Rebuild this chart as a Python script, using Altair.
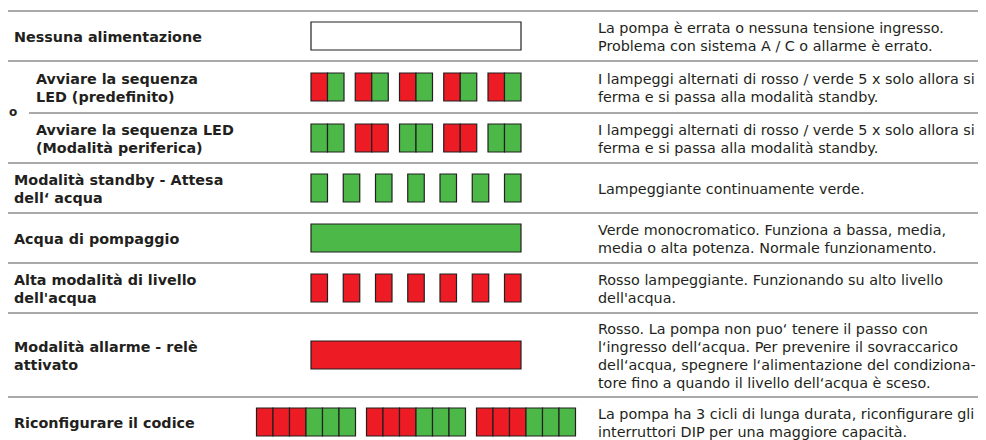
import altair as alt
import pandas as pd

# ---------------- data ----------------
labels = [
    ["Nessuna alimentazione"],
    ["Avviare la sequenza", "LED (predefinito)"],
    ["Avviare la sequenza LED", "(Modalità periferica)"],
    ["Modalità standby - Attesa", "dell‘ acqua"],
    ["Acqua di pompaggio"],
    ["Alta modalità di livello", "dell'acqua"],
    ["Modalità allarme - relè", "attivato"],
    ["Riconfigurare il codice"],
]
descriptions = [
    ["La pompa è errata o nessuna tensione ingresso.",
     "Problema con sistema A / C o allarme è errato."],
    ["I lampeggi alternati di rosso / verde 5 x solo allora si",
     "ferma e si passa alla modalità standby."],
    ["I lampeggi alternati di rosso / verde 5 x solo allora si",
     "ferma e si passa alla modalità standby."],
    ["Lampeggiante continuamente verde."],
    ["Verde monocromatico. Funziona a bassa, media,",
     "media o alta potenza. Normale funzionamento."],
    ["Rosso lampeggiante. Funzionando su alto livello",
     "dell'acqua."],
    ["Rosso. La pompa non puo‘ tenere il passo con",
     "l‘ingresso dell‘acqua. Per prevenire il sovraccarico",
     "dell‘acqua, spegnere l‘alimentazione del condiziona-",
     "tore fino a quando il livello dell‘acqua è sceso."],
    ["La pompa ha 3 cicli di lunga durata, riconfigurare gli",
     "interruttori DIP per una maggiore capacità."],
]
# LED patterns: groups separated by spaces, "X-" = one continuous bar
patterns = [
    "W-",
    "RG RG RG RG RG",
    "GG RR GG RR GG",
    "G G G G G G G",
    "G-",
    "R R R R R R R",
    "R-",
    "RRRGGG RRRGGG RRRGGG",
]
indented = [False, True, True, False, False, False, False, False]
side_mark = "o"

# ---------------- styles / layout ----------------
LED_COLORS = {"R": "#ED1C24", "G": "#4CB848", "W": "#FFFFFF"}
INK = "#231f20"
LINE_COLOR = "#8c8c8c"
FONT = "DejaVu Sans"
FS = 14.35

W, H = 970, 432
ROW_TOP0 = 3
ROW_H = [50, 52, 50, 50, 50, 50, 84, 50]
LED_X0, LED_W = 303, 210
CELL_W, MIN_GAP, BLOCK_H = 16.5, 11, 28
LABEL_X, LABEL_X_IND = 6, 28
DESC_X = 590
LABEL_LH, DESC_LH = 18, 18
TEXT_SHIFT = 1.75

tops = []
t = ROW_TOP0
for h in ROW_H:
    tops.append(t)
    t += h
centers = [tp + h / 2 for tp, h in zip(tops, ROW_H)]

# separator lines
lines = []
for i, tp in enumerate(tops):
    x0 = LABEL_X_IND - 7 if (i > 0 and indented[i] and indented[i - 1]) else 0
    lines.append({"x": x0, "x2": W, "y": tp})
lines_df = pd.DataFrame(lines)

# LED cells
cells = []
led_cx = LED_X0 + LED_W / 2
for i, pat in enumerate(patterns):
    cy = centers[i]
    groups = pat.split(" ")
    if len(groups) == 1 and groups[0].endswith("-"):
        cells.append({"x": LED_X0, "x2": LED_X0 + LED_W, "y": cy - BLOCK_H / 2,
                      "y2": cy + BLOCK_H / 2, "c": LED_COLORS[groups[0][0]]})
        continue
    widths = [len(g) * CELL_W for g in groups]
    n = len(groups)
    gap = max(MIN_GAP, (LED_W - sum(widths)) / (n - 1)) if n > 1 else 0
    total = sum(widths) + gap * (n - 1)
    x = led_cx - total / 2
    for g, gw in zip(groups, widths):
        for k, ch in enumerate(g):
            cells.append({"x": x + k * CELL_W, "x2": x + (k + 1) * CELL_W,
                          "y": cy - BLOCK_H / 2, "y2": cy + BLOCK_H / 2,
                          "c": LED_COLORS[ch]})
        x += gw + gap
cells_df = pd.DataFrame(cells)

# texts
lab, desc = [], []
for i in range(len(labels)):
    n = len(labels[i])
    for j, s in enumerate(labels[i]):
        lab.append({"x": LABEL_X_IND if indented[i] else LABEL_X,
                    "y": centers[i] + (j - (n - 1) / 2) * LABEL_LH + TEXT_SHIFT, "t": s})
    n = len(descriptions[i])
    for j, s in enumerate(descriptions[i]):
        desc.append({"x": DESC_X,
                     "y": centers[i] + (j - (n - 1) / 2) * DESC_LH + TEXT_SHIFT, "t": s})
lab_df = pd.DataFrame(lab)
desc_df = pd.DataFrame(desc)
mark_df = pd.DataFrame([{"x": 1, "y": tops[2] - 1.5, "t": side_mark}])

xs = alt.Scale(domain=[0, W], nice=False, zero=False)
ys = alt.Scale(domain=[0, H], nice=False, zero=False, reverse=True)

rules = alt.Chart(lines_df).mark_rule(color=LINE_COLOR, strokeWidth=1.3).encode(
    x=alt.X("x:Q", scale=xs, axis=None), x2="x2:Q", y=alt.Y("y:Q", scale=ys, axis=None))

rects = alt.Chart(cells_df).mark_rect(stroke=INK, strokeWidth=1.2).encode(
    x=alt.X("x:Q", scale=xs, axis=None), x2="x2:Q",
    y=alt.Y("y:Q", scale=ys, axis=None), y2="y2:Q",
    fill=alt.Fill("c:N", scale=None))

lab_txt = alt.Chart(lab_df).mark_text(align="left", baseline="middle", font=FONT,
                                       fontSize=FS, fontWeight="bold", color=INK).encode(
    x=alt.X("x:Q", scale=xs, axis=None), y=alt.Y("y:Q", scale=ys, axis=None), text="t:N")

desc_txt = alt.Chart(desc_df).mark_text(align="left", baseline="middle", font=FONT,
                                         fontSize=FS, color=INK).encode(
    x=alt.X("x:Q", scale=xs, axis=None), y=alt.Y("y:Q", scale=ys, axis=None), text="t:N")

mark_txt = alt.Chart(mark_df).mark_text(align="left", baseline="middle", font=FONT,
                                         fontSize=12, fontWeight="bold", color=INK).encode(
    x=alt.X("x:Q", scale=xs, axis=None), y=alt.Y("y:Q", scale=ys, axis=None), text="t:N")

chart = alt.layer(rules, rects, lab_txt, desc_txt, mark_txt).properties(
    width=W, height=H, padding=0, autosize=alt.AutoSizeParams(type="none"),
    background="white",
).configure_view(stroke=None)

chart.save("out.html", embed_options={"renderer": "svg", "actions": False})
